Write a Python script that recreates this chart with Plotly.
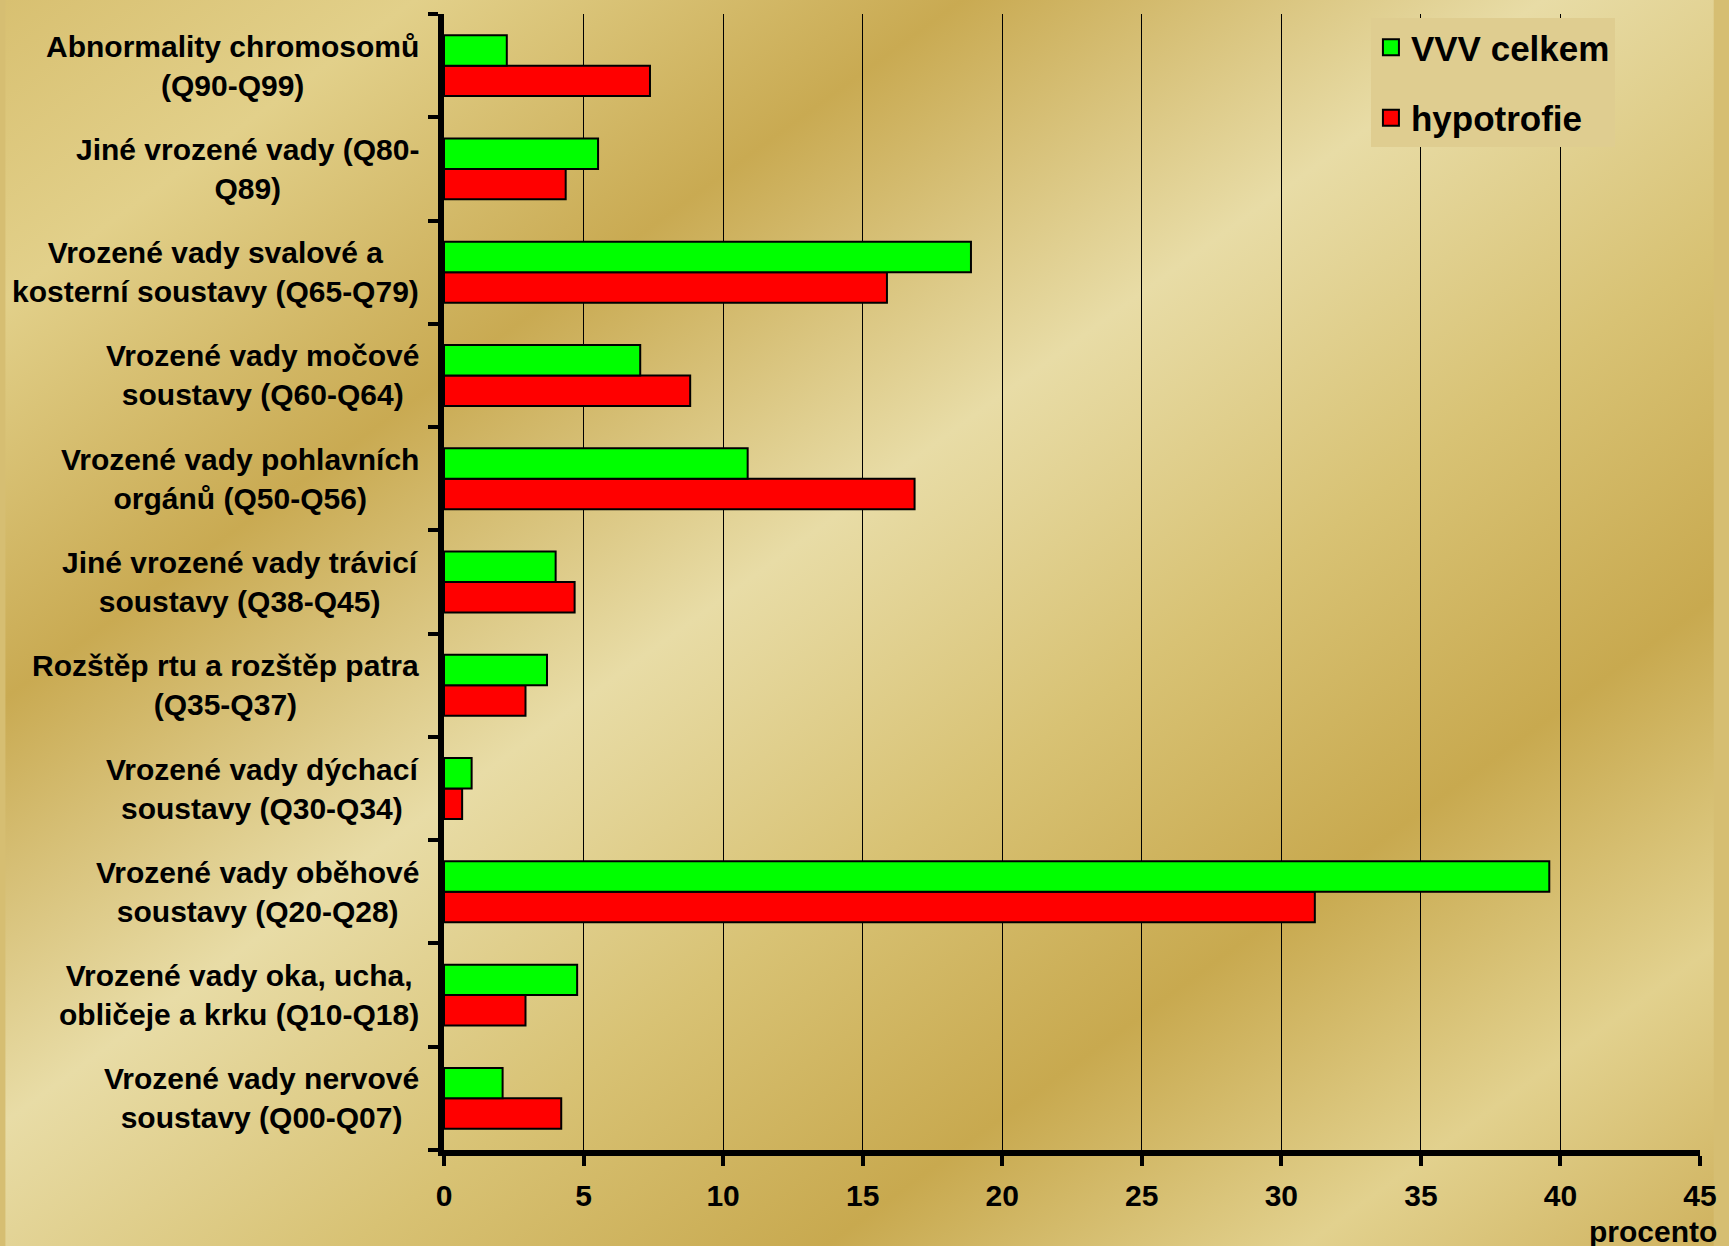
import base64
import plotly.graph_objects as go

# Categories listed bottom -> top
categories = [
    "Vrozené vady nervové<br>soustavy (Q00-Q07)",
    "Vrozené vady oka, ucha,<br>obličeje a krku (Q10-Q18)",
    "Vrozené vady oběhové<br>soustavy (Q20-Q28)",
    "Vrozené vady dýchací<br>soustavy (Q30-Q34)",
    "Rozštěp rtu a rozštěp patra<br>(Q35-Q37)",
    "Jiné vrozené vady trávicí<br>soustavy (Q38-Q45)",
    "Vrozené vady pohlavních<br>orgánů (Q50-Q56)",
    "Vrozené vady močové<br>soustavy (Q60-Q64)",
    "Vrozené vady svalové a<br>kosterní soustavy (Q65-Q79)",
    "Jiné vrozené vady (Q80-<br>Q89)",
    "Abnormality chromosomů<br>(Q90-Q99)",
]
vvv_celkem = [2.1, 4.77, 39.6, 0.99, 3.69, 4.0, 10.88, 7.03, 18.88, 5.52, 2.25]
hypotrofie = [4.2, 2.92, 31.2, 0.65, 2.92, 4.68, 16.86, 8.82, 15.87, 4.36, 7.38]

series_names = ["VVV celkem", "hypotrofie"]
series_colors = ["#00FF00", "#FF0000"]
x_ticks = [0, 5, 10, 15, 20, 25, 30, 35, 40, 45]
x_title = "procento"

W, H = 1729, 1246
L, R, T, B = 444, 14, 14, 96
PW, PH = W - L - R, H - T - B

FONT = "Liberation Sans, Arial, sans-serif"

svg = f'''<svg xmlns="http://www.w3.org/2000/svg" width="{W}" height="{H}" viewBox="0 0 {W} {H}" preserveAspectRatio="none">
<defs><linearGradient id="g" x1="0" y1="0" x2="1" y2="1">
<stop offset="0" stop-color="#D8C071"/>
<stop offset="0.12" stop-color="#E2D08A"/>
<stop offset="0.28" stop-color="#C9AA52"/>
<stop offset="0.45" stop-color="#E8DCA6"/>
<stop offset="0.6" stop-color="#D8C274"/>
<stop offset="0.74" stop-color="#C8A94F"/>
<stop offset="0.88" stop-color="#E2D18E"/>
<stop offset="1" stop-color="#CFB25E"/>
</linearGradient></defs>
<rect width="{W}" height="{H}" fill="url(#g)"/></svg>'''
bg_src = "data:image/svg+xml;base64," + base64.b64encode(svg.encode()).decode()

fig = go.Figure()
# red first so that green sits on top in each group
fig.add_trace(go.Bar(
    y=categories, x=hypotrofie, orientation="h", name=series_names[1],
    marker=dict(color=series_colors[1], line=dict(color="black", width=2)),
    showlegend=False,
))
fig.add_trace(go.Bar(
    y=categories, x=vvv_celkem, orientation="h", name=series_names[0],
    marker=dict(color=series_colors[0], line=dict(color="black", width=2)),
    showlegend=False,
))
# legend proxies (larger square symbols)
for i, (nm, col) in enumerate(zip(series_names, series_colors)):
    fig.add_trace(go.Scatter(
        x=[None], y=[None], mode="markers", name=nm, legendgroup=nm,
        legendrank=i + 1,
        marker=dict(symbol="square", size=16, color=col, line=dict(color="black", width=2)),
    ))

annotations = []
for c in categories:
    annotations.append(dict(
        x=(421 - L) / PW, xref="paper", y=c, yref="y", text=c, showarrow=False,
        xanchor="right", yanchor="middle", align="center",
        font=dict(family=FONT, size=30, color="black", weight="bold"),
    ))
annotations.append(dict(
    x=(1734 - L) / PW, xref="paper", y=-(1231 - (T + PH)) / PH, yref="paper",
    text=x_title, showarrow=False, xanchor="right", yanchor="middle",
    font=dict(family=FONT, size=30, color="black", weight="bold"),
))

fig.update_layout(
    width=W, height=H,
    margin=dict(l=L, r=R, t=T, b=B, pad=0),
    paper_bgcolor="#D6BE72",
    plot_bgcolor="rgba(0,0,0,0)",
    barmode="group", bargap=0.41, bargroupgap=0,
    images=[dict(source=bg_src, xref="paper", yref="paper",
                 x=-L / PW, y=1 + T / PH, sizex=W / PW, sizey=H / PH,
                 xanchor="left", yanchor="top", sizing="stretch", layer="below")],
    legend=dict(
        x=(1382 - L) / PW, y=1 - 4 / PH, xanchor="left", yanchor="top",
        bgcolor="#DFCD90", borderwidth=0,
        font=dict(family=FONT, size=35, color="black", weight="bold"),
        traceorder="grouped", tracegroupgap=22, itemsizing="trace",
    ),
    annotations=annotations,
    xaxis=dict(
        range=[0, 45], tickvals=x_ticks, ticktext=[str(v) for v in x_ticks],
        showgrid=True, gridcolor="black", gridwidth=1,
        showline=True, linecolor="black", linewidth=6,
        ticks="outside", ticklen=10, tickwidth=4, tickcolor="black",
        ticklabelstandoff=4, ticklabeloverflow="allow",
        tickfont=dict(family=FONT, size=30, color="black", weight="bold"),
        zeroline=False, fixedrange=True,
    ),
    yaxis=dict(
        type="category", categoryorder="array", categoryarray=categories,
        range=[-0.5, len(categories) - 0.5],
        showticklabels=False, showgrid=False,
        showline=True, linecolor="black", linewidth=6,
        ticks="outside", ticklen=10, tickwidth=4, tickcolor="black",
        tickson="boundaries", zeroline=False, fixedrange=True,
    ),
)

fig.write_html(
    "out.html",
    config={"displayModeBar": False},
    post_script="document.body.style.margin='0';document.body.style.overflow='hidden';",
)
